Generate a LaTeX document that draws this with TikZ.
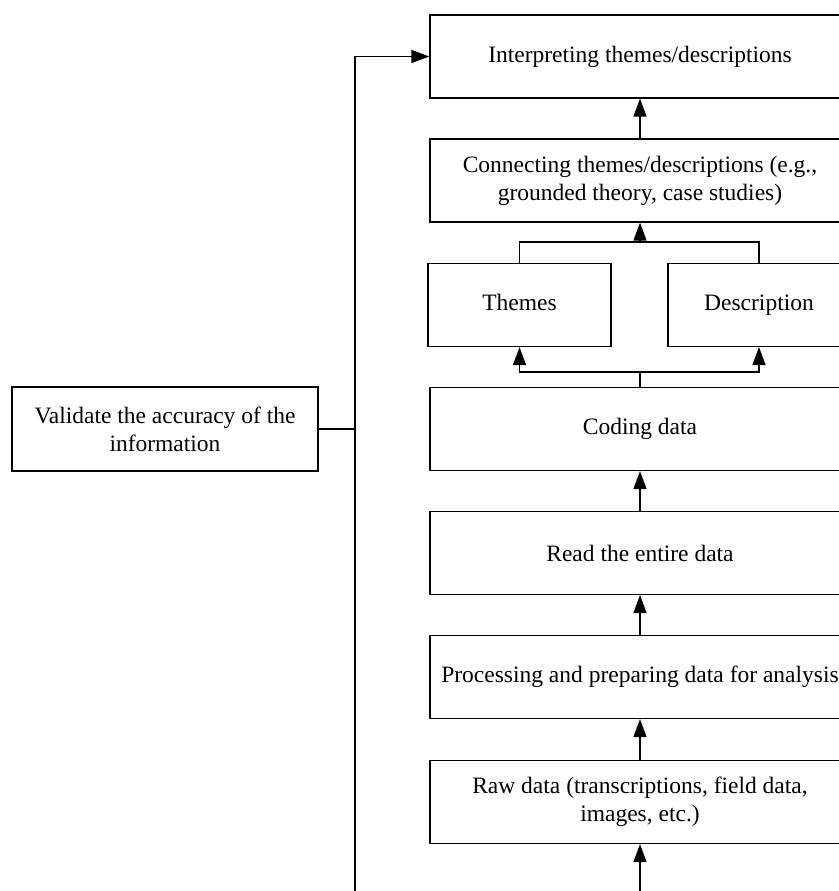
\documentclass[tikz,border=0pt]{standalone}
\usepackage{fontspec}
\setmainfont{Liberation Serif}
\usetikzlibrary{arrows.meta}
\begin{document}
\begin{tikzpicture}[x=1pt,y=-1pt,
  box/.style={draw,line width=1.2pt,minimum width=420pt,minimum height=83pt,align=center,inner sep=2pt,
    font=\fontsize{23.5}{28}\selectfont},
  smallbox/.style={box,minimum width=183pt,text height=16pt,text depth=5pt},
  conn/.style={line width=1.5pt},
  arr/.style={conn,-{Triangle[length=18pt,width=13pt]}}]
\useasboundingbox (0,0) rectangle (838,891);
\node[box] (interp) at (640,56.5) {Interpreting themes/descriptions};
\node[box] (connect) at (640,180.5) {Connecting themes/descriptions (e.g.,\\grounded theory, case studies)};
\node[smallbox] (themes) at (519.5,305) {Themes};
\node[smallbox,minimum width=182pt] (desc) at (759,305) {Description};
\node[box] (coding) at (640,429) {Coding data};
\node[box] (read) at (640,553) {Read the entire data};
\node[box] (proc) at (640,677) {Processing and preparing data for analysis};
\node[box] (raw) at (640,802) {Raw data (transcriptions, field data,\\images, etc.)};
\node[box,minimum width=306pt,minimum height=84pt] (valid) at (165,429) {Validate the accuracy of the\\information};
\coordinate (bot) at (640,900);
\coordinate (lbot) at (355,900);
\coordinate (ltop) at (355,56.5);
\coordinate (lmid) at (355,429);
\coordinate (jt) at (640,242);
\coordinate (jb) at (640,372);
\draw[arr] (bot) -- (raw.south);
\draw[arr] (raw.north) -- (proc.south);
\draw[arr] (proc.north) -- (read.south);
\draw[arr] (read.north) -- (coding.south);
\draw[conn] (coding.north) -- (jb);
\draw[arr] (jb) -| (themes.south);
\draw[arr] (jb) -| (desc.south);
\draw[conn] (themes.north) |- (jt) -| (desc.north);
\draw[arr] (jt) -- (connect.south);
\draw[arr] (connect.north) -- (interp.south);
\draw[conn] (valid.east) -- (lmid);
\draw[conn] (lbot) -- (ltop);
\draw[arr] (ltop) -- (interp.west);
\end{tikzpicture}
\end{document}
